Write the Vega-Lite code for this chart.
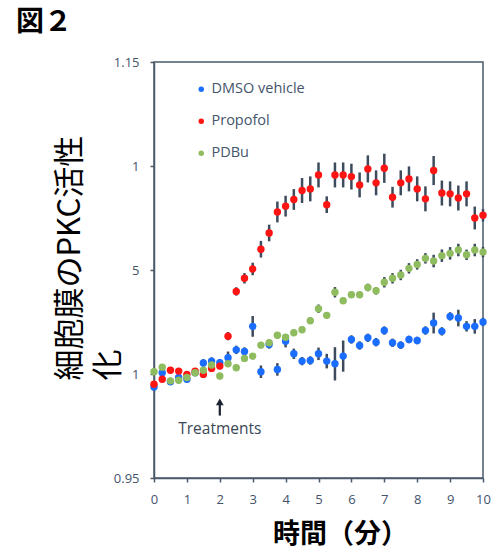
{
"$schema": "https://vega.github.io/schema/vega-lite/v6.json",
"width": 329, "height": 416,
"autosize": "none",
"padding": {"left": 154, "top": 62, "right": 21, "bottom": 75},
"background": "white",
"config": {"view": {"stroke": "#4b5a6b", "strokeWidth": 1.5}, "font": "Open Sans", "axis": {"labelOverlap": false}},
"title": {"text": "図２", "font": "Noto Sans CJK JP", "fontSize": 28, "fontWeight": "bold", "color": "black", "anchor": "start", "frame": "group", "dx": -138, "offset": 19},
"datasets": {
"pts": [
{"s":"DMSO vehicle","t":0,"v":0.9938,"e":0.0018},{"s":"DMSO vehicle","t":0.25,"v":1.0006,"e":0.0015},{"s":"DMSO vehicle","t":0.5,"v":0.9963,"e":0.0015},{"s":"DMSO vehicle","t":0.75,"v":0.9983,"e":0.0015},{"s":"DMSO vehicle","t":1,"v":0.9975,"e":0.0015},{"s":"DMSO vehicle","t":1.25,"v":1.0006,"e":0.0015},{"s":"DMSO vehicle","t":1.5,"v":1.0053,"e":0.0018},{"s":"DMSO vehicle","t":1.75,"v":1.0062,"e":0.0018},{"s":"DMSO vehicle","t":2,"v":1.0054,"e":0.0018},{"s":"DMSO vehicle","t":2.25,"v":1.0078,"e":0.003},{"s":"DMSO vehicle","t":2.5,"v":1.0116,"e":0.002},{"s":"DMSO vehicle","t":2.75,"v":1.0108,"e":0.002},{"s":"DMSO vehicle","t":3,"v":1.0229,"e":0.005},{"s":"DMSO vehicle","t":3.25,"v":1.0011,"e":0.003},{"s":"DMSO vehicle","t":3.5,"v":1.0142,"e":0.002},{"s":"DMSO vehicle","t":3.75,"v":1.0022,"e":0.003},{"s":"DMSO vehicle","t":4,"v":1.0158,"e":0.003},{"s":"DMSO vehicle","t":4.25,"v":1.0097,"e":0.0025},{"s":"DMSO vehicle","t":4.5,"v":1.0062,"e":0.002},{"s":"DMSO vehicle","t":4.75,"v":1.0065,"e":0.002},{"s":"DMSO vehicle","t":5,"v":1.0097,"e":0.003},{"s":"DMSO vehicle","t":5.25,"v":1.0062,"e":0.0035},{"s":"DMSO vehicle","t":5.5,"v":1.0049,"e":0.008},{"s":"DMSO vehicle","t":5.75,"v":1.0086,"e":0.0075},{"s":"DMSO vehicle","t":6,"v":1.0166,"e":0.002},{"s":"DMSO vehicle","t":6.25,"v":1.0137,"e":0.002},{"s":"DMSO vehicle","t":6.5,"v":1.0174,"e":0.002},{"s":"DMSO vehicle","t":6.75,"v":1.0153,"e":0.002},{"s":"DMSO vehicle","t":7,"v":1.0209,"e":0.002},{"s":"DMSO vehicle","t":7.25,"v":1.015,"e":0.002},{"s":"DMSO vehicle","t":7.5,"v":1.0139,"e":0.0018},{"s":"DMSO vehicle","t":7.75,"v":1.0166,"e":0.0018},{"s":"DMSO vehicle","t":8,"v":1.0161,"e":0.0018},{"s":"DMSO vehicle","t":8.25,"v":1.0209,"e":0.002},{"s":"DMSO vehicle","t":8.5,"v":1.0245,"e":0.005},{"s":"DMSO vehicle","t":8.75,"v":1.0205,"e":0.002},{"s":"DMSO vehicle","t":9,"v":1.0277,"e":0.002},{"s":"DMSO vehicle","t":9.25,"v":1.0269,"e":0.004},{"s":"DMSO vehicle","t":9.5,"v":1.0229,"e":0.0025},{"s":"DMSO vehicle","t":9.75,"v":1.0229,"e":0.0035},{"s":"DMSO vehicle","t":10,"v":1.025,"e":0.002},
{"s":"Propofol","t":0,"v":0.9951,"e":0.0012},{"s":"Propofol","t":0.25,"v":0.9975,"e":0.0015},{"s":"Propofol","t":0.5,"v":1.0018,"e":0.0012},{"s":"Propofol","t":0.75,"v":1.0014,"e":0.0012},{"s":"Propofol","t":1,"v":0.9998,"e":0.0012},{"s":"Propofol","t":1.25,"v":1.0014,"e":0.0012},{"s":"Propofol","t":1.5,"v":0.9998,"e":0.0012},{"s":"Propofol","t":1.75,"v":1.0027,"e":0.0015},{"s":"Propofol","t":2,"v":1.0038,"e":0.0015},{"s":"Propofol","t":2.25,"v":1.0182,"e":0.002},{"s":"Propofol","t":2.5,"v":1.0397,"e":0.002},{"s":"Propofol","t":2.75,"v":1.046,"e":0.0025},{"s":"Propofol","t":3,"v":1.0505,"e":0.003},{"s":"Propofol","t":3.25,"v":1.06,"e":0.004},{"s":"Propofol","t":3.5,"v":1.0678,"e":0.004},{"s":"Propofol","t":3.75,"v":1.0779,"e":0.005},{"s":"Propofol","t":4,"v":1.0807,"e":0.005},{"s":"Propofol","t":4.25,"v":1.0839,"e":0.005},{"s":"Propofol","t":4.5,"v":1.0882,"e":0.006},{"s":"Propofol","t":4.75,"v":1.089,"e":0.006},{"s":"Propofol","t":5,"v":1.0957,"e":0.006},{"s":"Propofol","t":5.25,"v":1.0814,"e":0.004},{"s":"Propofol","t":5.5,"v":1.0957,"e":0.006},{"s":"Propofol","t":5.75,"v":1.0957,"e":0.006},{"s":"Propofol","t":6,"v":1.0949,"e":0.0062},{"s":"Propofol","t":6.25,"v":1.0909,"e":0.006},{"s":"Propofol","t":6.5,"v":1.0986,"e":0.0065},{"s":"Propofol","t":6.75,"v":1.0919,"e":0.006},{"s":"Propofol","t":7,"v":1.0989,"e":0.007},{"s":"Propofol","t":7.25,"v":1.085,"e":0.005},{"s":"Propofol","t":7.5,"v":1.0919,"e":0.006},{"s":"Propofol","t":7.75,"v":1.0938,"e":0.006},{"s":"Propofol","t":8,"v":1.089,"e":0.006},{"s":"Propofol","t":8.25,"v":1.0842,"e":0.006},{"s":"Propofol","t":8.5,"v":1.0978,"e":0.007},{"s":"Propofol","t":8.75,"v":1.087,"e":0.006},{"s":"Propofol","t":9,"v":1.0866,"e":0.006},{"s":"Propofol","t":9.25,"v":1.0846,"e":0.006},{"s":"Propofol","t":9.5,"v":1.0866,"e":0.006},{"s":"Propofol","t":9.75,"v":1.075,"e":0.0055},{"s":"Propofol","t":10,"v":1.0763,"e":0.003},
{"s":"PDBu","t":0,"v":1.0011,"e":0.0015},{"s":"PDBu","t":0.25,"v":1.0033,"e":0.0015},{"s":"PDBu","t":0.5,"v":0.9967,"e":0.0015},{"s":"PDBu","t":0.75,"v":0.997,"e":0.0015},{"s":"PDBu","t":1,"v":0.9983,"e":0.0015},{"s":"PDBu","t":1.25,"v":1.0006,"e":0.0015},{"s":"PDBu","t":1.5,"v":1.0018,"e":0.0015},{"s":"PDBu","t":1.75,"v":1.0043,"e":0.0015},{"s":"PDBu","t":2,"v":0.999,"e":0.0015},{"s":"PDBu","t":2.25,"v":1.0049,"e":0.0015},{"s":"PDBu","t":2.5,"v":1.003,"e":0.0015},{"s":"PDBu","t":2.75,"v":1.0075,"e":0.0015},{"s":"PDBu","t":3,"v":1.0086,"e":0.0015},{"s":"PDBu","t":3.25,"v":1.0139,"e":0.0015},{"s":"PDBu","t":3.5,"v":1.015,"e":0.0015},{"s":"PDBu","t":3.75,"v":1.0186,"e":0.0015},{"s":"PDBu","t":4,"v":1.0177,"e":0.0015},{"s":"PDBu","t":4.25,"v":1.0198,"e":0.0015},{"s":"PDBu","t":4.5,"v":1.0213,"e":0.0015},{"s":"PDBu","t":4.75,"v":1.0256,"e":0.0015},{"s":"PDBu","t":5,"v":1.0314,"e":0.002},{"s":"PDBu","t":5.25,"v":1.0282,"e":0.0015},{"s":"PDBu","t":5.5,"v":1.0393,"e":0.0025},{"s":"PDBu","t":5.75,"v":1.0352,"e":0.0015},{"s":"PDBu","t":6,"v":1.0381,"e":0.0015},{"s":"PDBu","t":6.25,"v":1.0381,"e":0.0015},{"s":"PDBu","t":6.5,"v":1.0416,"e":0.0018},{"s":"PDBu","t":6.75,"v":1.04,"e":0.0018},{"s":"PDBu","t":7,"v":1.0441,"e":0.0025},{"s":"PDBu","t":7.25,"v":1.046,"e":0.0025},{"s":"PDBu","t":7.5,"v":1.0476,"e":0.0025},{"s":"PDBu","t":7.75,"v":1.0508,"e":0.0025},{"s":"PDBu","t":8,"v":1.0527,"e":0.0025},{"s":"PDBu","t":8.25,"v":1.0556,"e":0.0025},{"s":"PDBu","t":8.5,"v":1.0543,"e":0.003},{"s":"PDBu","t":8.75,"v":1.0569,"e":0.003},{"s":"PDBu","t":9,"v":1.058,"e":0.003},{"s":"PDBu","t":9.25,"v":1.0596,"e":0.003},{"s":"PDBu","t":9.5,"v":1.0573,"e":0.0025},{"s":"PDBu","t":9.75,"v":1.0596,"e":0.003},{"s":"PDBu","t":10,"v":1.0586,"e":0.0025}
],
"ann": [{"t": 2, "v": 0.9737, "label": "Treatments"}],
"arrow": [{"t": 2, "v": 0.9800, "v2": 0.9866}],
"head": [{"t": 2, "v": 0.9866}]
},
"encoding": {
"x": {"field": "t", "type": "quantitative", "scale": {"domain": [0, 10], "nice": false, "zero": false},
"axis": {"values": [0,1,2,3,4,5,6,7,8,9,10], "format": "d", "grid": false, "labelOverlap": false, "labelFlush": false, "title": "時間（分）", "titleFont": "Noto Sans CJK JP", "titleFontSize": 27, "titleFontWeight": "bold", "titleColor": "black", "titleX": 186, "titleY": 56, "titleBaseline": "middle", "titleAlign": "center", "domainColor": "#4b5a6b", "domainWidth": 1.5, "tickColor": "#4b5a6b", "tickWidth": 1.5, "tickSize": 4, "labelColor": "#44546A", "labelFontSize": 13, "labelPadding": 11, "labelFont": "Open Sans"}},
"y": {"field": "v", "type": "quantitative", "scale": {"domain": [0.95, 1.15], "nice": false, "zero": false},
"axis": {"values": [0.95, 1, 1.05, 1.1, 1.15], "labelExpr": "datum.value < 0.97 ? '0.95' : datum.value < 1.02 ? '1' : datum.value < 1.07 ? '5' : datum.value < 1.12 ? '1' : '1.15'", "labelOverlap": false, "labelBound": false, "labelFlush": false, "labelAlign": "right", "labelBaseline": "middle", "grid": false, "title": ["細胞膜のPKC活性", "化"], "titleFont": "Noto Sans CJK JP", "titleFontSize": 31, "titleFontWeight": "normal", "titleColor": "black", "titleAngle": 270, "titleAlign": "left", "titleBaseline": "middle", "titleX": -84, "titleY": 318, "titleLineHeight": 38, "domainColor": "#4b5a6b", "domainWidth": 1.5, "tickColor": "#4b5a6b", "tickWidth": 1.5, "tickSize": 4, "labelColor": "#44546A", "labelFontSize": 13, "labelPadding": 11, "labelFont": "Open Sans"}}
},
"layer": [
{"data": {"name": "pts"}, "mark": {"type": "errorbar", "color": "#3d4b5c", "thickness": 2.5}, "encoding": {"yError": {"field": "e"}}},
{"data": {"name": "pts"}, "mark": {"type": "point", "filled": true, "shape": "circle", "size": 55, "opacity": 1},
"encoding": {"color": {"field": "s", "type": "nominal", "scale": {"domain": ["DMSO vehicle", "Propofol", "PDBu"], "range": ["#1a6dff", "#ff1414", "#8fbc5f"]},
"legend": {"title": null, "orient": "none", "legendX": 40, "legendY": 20, "padding": 0, "symbolSize": 30, "symbolType": "circle", "labelFontSize": 14.5, "labelColor": "#44546A", "labelFont": "Open Sans", "labelOffset": 3, "rowPadding": 17}}}},
{"data": {"name": "arrow"}, "mark": {"type": "rule", "color": "#1b2230", "strokeWidth": 2.2}, "encoding": {"y2": {"field": "v2"}}},
{"data": {"name": "head"}, "mark": {"type": "point", "shape": "triangle-up", "filled": true, "color": "#1b2230", "size": 60, "opacity": 1}, "encoding": {}},
{"data": {"name": "ann"}, "mark": {"type": "text", "fontSize": 15.5, "color": "#3a4757", "font": "Open Sans", "baseline": "middle", "align": "center"}, "encoding": {"text": {"field": "label"}}}
]
}
